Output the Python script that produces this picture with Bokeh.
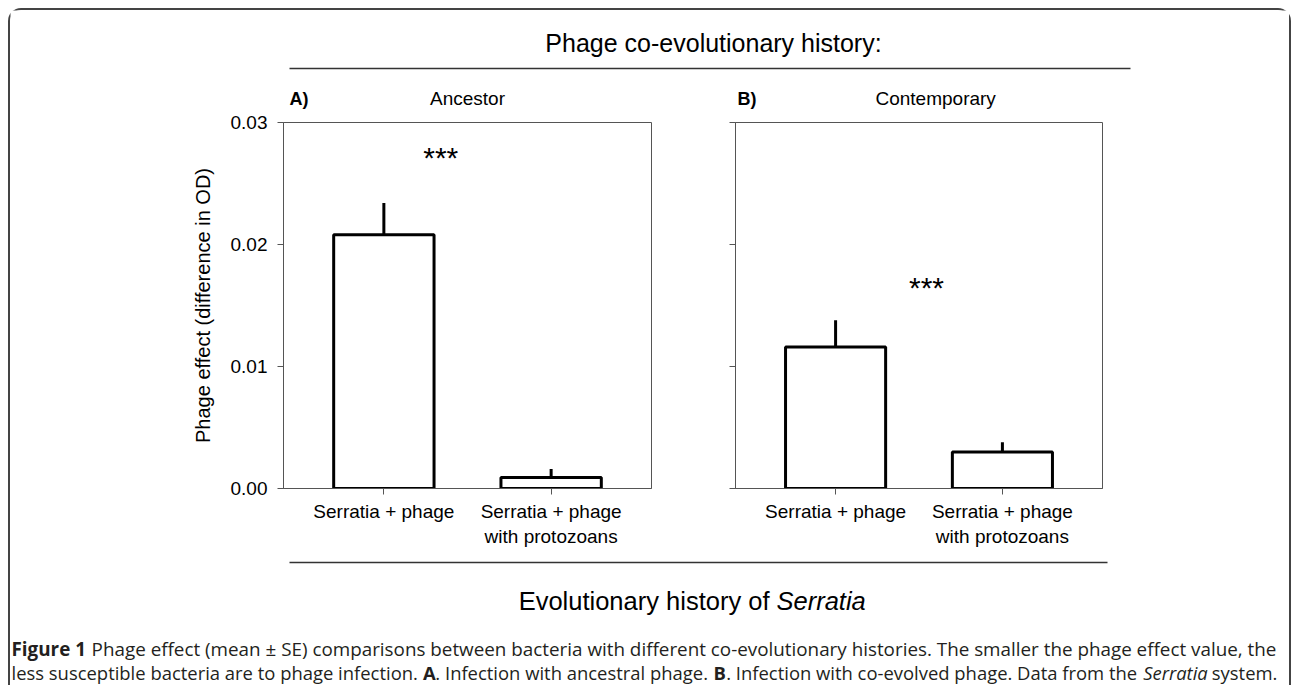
from bokeh.plotting import figure
from bokeh.models import Range1d, FixedTicker, Label, ColumnDataSource
from bokeh.layouts import column, row
from bokeh.embed import file_html
from bokeh.resources import INLINE
from bokeh.core.properties import value

# ---------------- data ----------------
categories = ["Serratia + phage", "Serratia + phage\nwith protozoans"]
ancestor_mean = [0.0208, 0.0009]
ancestor_se = [0.0026, 0.0007]
contemporary_mean = [0.0116, 0.0030]
contemporary_se = [0.0022, 0.0008]
y_ticks = [0.0, 0.01, 0.02, 0.03]
y_tick_labels = ["0.00", "0.01", "0.02", "0.03"]
panel_letters = ["A)", "B)"]
panel_titles = ["Ancestor", "Contemporary"]
panel_title_x = [1.5, 1.6]
significance = ["***", "***"]
sig_x = [1.34, 1.545]
sig_y = [0.0271, 0.0165]
y_axis_title = "Phage effect (difference in OD)"
top_title = "Phage co-evolutionary history:"
bottom_title = ["Evolutionary history of", "Serratia"]
caption_line1 = [("Figure 1", "bold"),
                 (" Phage effect (mean \u00b1 SE) comparisons between bacteria with different co-evolutionary histories. The smaller the phage effect value, the", "normal")]
caption_line2 = [("less susceptible bacteria are to phage infection. ", "normal"), ("A", "bold"),
                 (". Infection with ancestral phage. ", "normal"), ("B", "bold"),
                 (". Infection with co-evolved phage. Data from the ", "normal"),
                 ("Serratia", "italic"), (" system.", "normal")]

SANS = "Liberation Sans"
CAP = "Open Sans"
AX = "#555555"
X_LO, X_HI = 0.4, 2.6

# page geometry (pixels from the page's top-left corner)
OX, OY = 10, 10            # content origin inside the rounded frame
CW = 1279                  # content width
HEAD_BOT, ROW_BOT, FOOT_BOT = 112, 560, 685
FRAME_TOP, FRAME_BOT = 122, 488
A_LEFT, A_RIGHT, SPLIT, B_LEFT, B_RIGHT = 283, 651, 693, 735, 1102

# ---------------- panels ----------------
def make_panel(mean, se, idx, show_y, x0, x1, left, right):
    xs = [i + 1 for i in range(len(categories))]
    p = figure(width=x1 - x0, height=ROW_BOT - HEAD_BOT, x_range=Range1d(X_LO, X_HI),
               y_range=Range1d(y_ticks[0], y_ticks[-1]),
               output_backend="svg", toolbar_location=None,
               min_border_left=left - x0, min_border_right=x1 - right,
               min_border_top=FRAME_TOP - HEAD_BOT, min_border_bottom=ROW_BOT - FRAME_BOT)
    p.grid.visible = False
    p.outline_line_color = AX
    p.outline_line_width = 1
    p.background_fill_color = "white"
    p.border_fill_color = None
    src = ColumnDataSource(dict(x=xs, top=mean, up=[m + s for m, s in zip(mean, se)]))
    p.segment(x0="x", y0="top", x1="x", y1="up", source=src, line_color="black", line_width=3)
    p.vbar(x="x", top="top", bottom=0, width=0.6, source=src, fill_color="white",
           line_color="black", line_width=3)
    p.text(x=[sig_x[idx]], y=[sig_y[idx]], text=[significance[idx]], text_font=value(SANS),
           text_font_size="30px", text_align="center", text_baseline="middle", text_color="black")

    xa = p.xaxis[0]
    xa.ticker = FixedTicker(ticks=xs)
    xa.major_label_overrides = {x: c for x, c in zip(xs, categories)}
    xa.minor_tick_line_color = None
    xa.major_tick_out = 6
    xa.major_tick_in = 0
    xa.axis_line_color = AX
    xa.major_tick_line_color = AX
    xa.major_label_text_font = SANS
    xa.major_label_text_font_size = "19px"
    xa.major_label_text_color = "black"
    xa.major_label_standoff = 6

    ya = p.yaxis[0]
    ya.ticker = FixedTicker(ticks=y_ticks)
    ya.major_label_overrides = {t: (l if show_y else "") for t, l in zip(y_ticks, y_tick_labels)}
    ya.minor_tick_line_color = None
    ya.major_tick_out = 6
    ya.major_tick_in = 0
    ya.axis_line_color = AX
    ya.major_tick_line_color = AX
    ya.major_label_text_font = SANS
    ya.major_label_text_font_size = "19px"
    ya.major_label_text_color = "black"
    ya.major_label_standoff = 10
    if show_y:
        ya.axis_label = y_axis_title
        ya.axis_label_text_font = SANS
        ya.axis_label_text_font_size = "20px"
        ya.axis_label_text_font_style = "normal"
        ya.axis_label_text_color = "black"
        ya.axis_label_standoff = 14
    return p

pA = make_panel(ancestor_mean, ancestor_se, 0, True, OX, SPLIT, A_LEFT, A_RIGHT)
pB = make_panel(contemporary_mean, contemporary_se, 1, False, SPLIT, OX + CW, B_LEFT, B_RIGHT)

# ---------------- decoration strips ----------------
def deco(y_top, y_bot):
    f = figure(width=CW, height=y_bot - y_top, x_range=Range1d(OX, OX + CW),
               y_range=Range1d(y_bot, y_top),
               output_backend="svg", toolbar_location=None, x_axis_type=None, y_axis_type=None,
               min_border=0)
    f.outline_line_color = None
    f.border_fill_color = None
    return f

head = deco(OY, HEAD_BOT)
head.segment(x0=[289], y0=[68], x1=[1130], y1=[68], line_color="#333333", line_width=1.5)
head.add_layout(Label(x=713, y=42, text=top_title, text_font=SANS, text_font_size="25px",
                      text_align="center", text_baseline="middle", text_color="black"))
for i, (fl, fr, dx) in enumerate([(A_LEFT, A_RIGHT, 6), (B_LEFT, B_RIGHT, 2)]):
    head.add_layout(Label(x=fl + dx, y=98, text=panel_letters[i], text_font=SANS,
                          text_font_size="18px", text_font_style="bold", text_align="left",
                          text_baseline="middle", text_color="black"))
    tx = fl + (panel_title_x[i] - X_LO) / (X_HI - X_LO) * (fr - fl)
    head.add_layout(Label(x=tx, y=98, text=panel_titles[i], text_font=SANS,
                          text_font_size="19px", text_align="center",
                          text_baseline="middle", text_color="black"))

foot = deco(ROW_BOT, FOOT_BOT)
foot.segment(x0=[289], y0=[562], x1=[1107], y1=[562], line_color="#333333", line_width=1.5)
split = 776
foot.add_layout(Label(x=split - 7, y=600, text=bottom_title[0], text_font=SANS, text_font_size="25.5px",
                      text_align="right", text_baseline="middle", text_color="black"))
foot.add_layout(Label(x=split, y=600, text=bottom_title[1], text_font=SANS, text_font_size="25.5px",
                      text_font_style="italic", text_align="left", text_baseline="middle",
                      text_color="black"))

# approximate Open Sans advance widths (em) for laying caption segments side by side
OSW = {" ": 0.26, "(": 0.29, ")": 0.29, "+": 0.556, ",": 0.245, "-": 0.322, ".": 0.266,
       "1": 0.572, "\u00b1": 0.556, "A": 0.633, "B": 0.648, "D": 0.738, "E": 0.556, "F": 0.516,
       "I": 0.3, "S": 0.55, "T": 0.554, "a": 0.556, "b": 0.613, "c": 0.476, "d": 0.613,
       "e": 0.561, "f": 0.339, "g": 0.548, "h": 0.614, "i": 0.253, "l": 0.253, "m": 0.93,
       "n": 0.614, "o": 0.604, "p": 0.613, "r": 0.408, "s": 0.477, "t": 0.353, "u": 0.614,
       "v": 0.501, "w": 0.778, "x": 0.524, "y": 0.502, "z": 0.458}
STYLE_K = {"bold": 1.07, "italic": 0.95, "normal": 1.0}

def em(s, style):
    return sum(OSW.get(c, 0.55) for c in s) * STYLE_K[style]

CAP_X0 = 11
line_ems = [sum(em(t, s) for t, s in ln) for ln in (caption_line1, caption_line2)]
base_size = (1277 - CAP_X0) / max(line_ems)
# line 1 renders about 2% narrower than estimated relative to line 2: stretch it to the same right edge
line_sizes = [base_size * 1.022, base_size]

def place_line(segments, y, size):
    x = CAP_X0
    for t, s in segments:
        lead = len(t) - len(t.lstrip(" "))
        xs = x + em(" " * lead, s) * size
        foot.add_layout(Label(x=xs, y=y, text=t.strip(" "), text_font=CAP,
                              text_font_size=f"{size:.2f}px", text_font_style=s,
                              text_align="left", text_baseline="middle", text_color="#231f20"))
        x += em(t, s) * size

place_line(caption_line1, 648, line_sizes[0])
place_line(caption_line2, 672, line_sizes[1])

layout = column(head, row(pA, pB), foot,
                styles={"margin-left": "8px", "margin-top": "8px",
                        "border": "2px solid #444444", "border-bottom": "none",
                        "border-radius": "13px 13px 0 0"})

open("out.html", "w").write(file_html(layout, INLINE))
